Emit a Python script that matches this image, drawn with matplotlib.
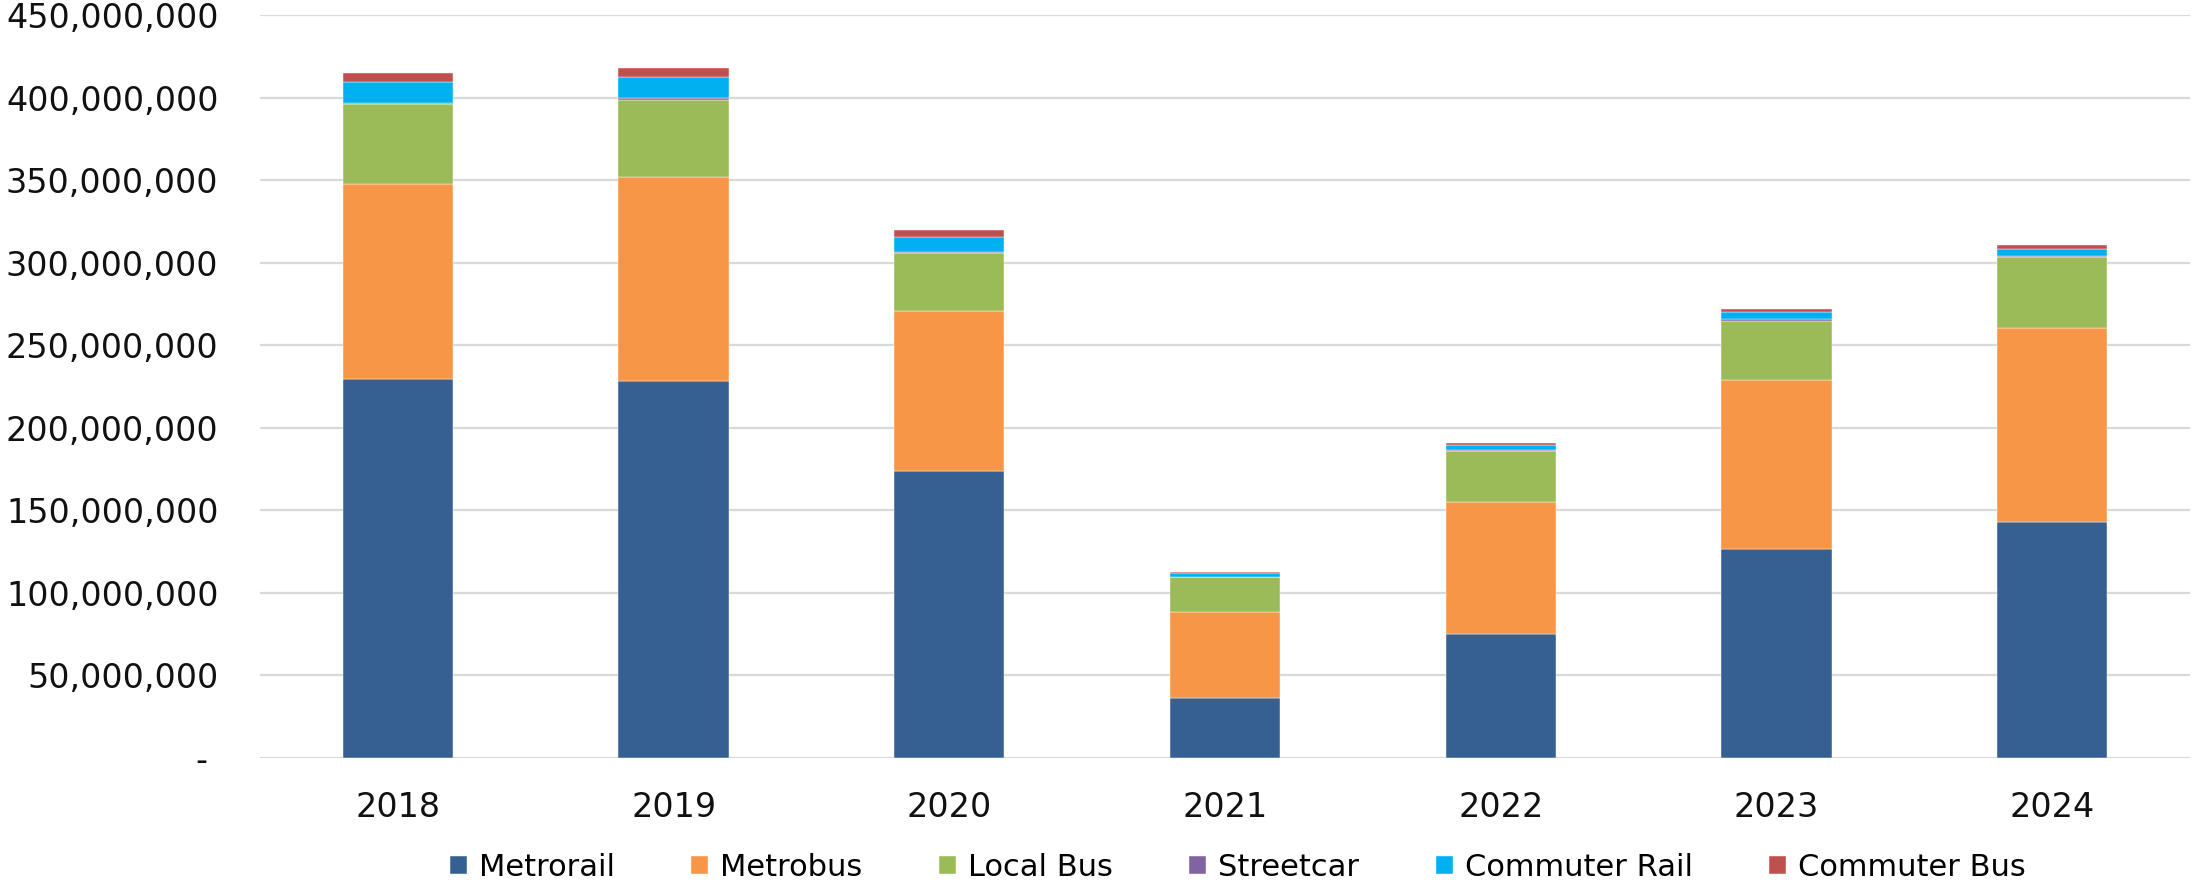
import numpy as np
import matplotlib
matplotlib.use("Agg")
import matplotlib.pyplot as plt
from matplotlib.ticker import FuncFormatter, MultipleLocator

years = ['2018', '2019', '2020', '2021', '2022', '2023', '2024']

# ridership, millions of trips
metrorail     = [229.7, 228.2, 173.7, 36.4, 75.4, 126.3, 143.2]
metrobus      = [118.2, 123.7, 97.1, 52.2, 79.7, 102.5, 117.3]
local_bus     = [48.4, 46.4, 35.1, 21.0, 31.1, 36.1, 42.8]
streetcar     = [0.6, 1.4, 0.8, 0.3, 0.4, 0.8, 0.8]
commuter_rail = [12.5, 12.5, 9.1, 1.9, 2.9, 4.5, 4.0]
commuter_bus  = [5.7, 5.9, 4.2, 0.8, 1.0, 2.0, 2.4]

series_names = ['Metrorail', 'Metrobus', 'Local Bus', 'Streetcar',
                'Commuter Rail', 'Commuter Bus']
colors = ['#376092', '#F79646', '#9BBB59', '#8064A2', '#00B0F0', '#C0504D']


def fmt(v, pos):
    if v == 0:
        return '- '
    return '{:,.0f}'.format(v)


def plot():
    series = [metrorail, metrobus, local_bus, streetcar, commuter_rail, commuter_bus]
    x = np.arange(len(years))

    fig = plt.figure(figsize=(21.93, 8.84), dpi=100)
    ax = fig.add_axes([0.1186, 0.1425, 0.8800, 0.8405])

    bottom = np.zeros(len(years))
    for name, vals, c in zip(series_names, series, colors):
        v = np.array(vals) * 1e6
        ax.bar(x, v, 0.40, bottom=bottom, color=c, label=name,
               edgecolor='#FFFFFF', linewidth=0.3, zorder=3)
        bottom += v

    ax.set_xlim(-0.5, len(years) - 0.5)
    ax.set_ylim(0, 450e6)
    ax.yaxis.set_major_locator(MultipleLocator(50e6))
    ax.yaxis.set_major_formatter(FuncFormatter(fmt))
    ax.set_xticks(x)
    ax.set_xticklabels(years)

    ax.grid(True, axis='y', color='#D9D9D9', linewidth=1.6, zorder=0)
    for s in ax.spines.values():
        s.set_visible(False)
    ax.tick_params(axis='both', length=0, labelsize=24, colors='#111111')
    ax.tick_params(axis='x', pad=24)
    ax.tick_params(axis='y', pad=30)

    fig.legend(loc='center', bbox_to_anchor=(0.5645, 0.0187), ncol=6,
               frameon=False, fontsize=22, handlelength=0.55, handleheight=0.55,
               handletextpad=0.4, columnspacing=2.5)

    plt.savefig('out.png', dpi=100)


if __name__ == "__main__":
    plot()
